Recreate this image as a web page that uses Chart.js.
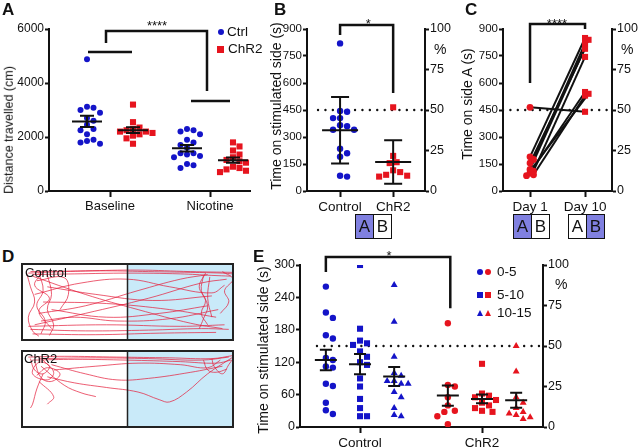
<!DOCTYPE html>
<html>
<head>
<meta charset="utf-8">
<script src="https://cdn.jsdelivr.net/npm/chart.js@4.4.0/dist/chart.umd.min.js"></script>
<style>
body{margin:0;background:#fff;width:640px;height:448px;position:relative;overflow:hidden;font-family:"Liberation Sans",Arial,sans-serif;color:#111}
canvas{position:absolute}
.t{position:absolute;white-space:nowrap;line-height:1}
.let{position:absolute;font-weight:bold;font-size:17px;line-height:1}
.yt{position:absolute;white-space:nowrap;line-height:1;transform:translate(-50%,-50%) rotate(-90deg)}
.box{position:absolute;display:flex;border:1.5px solid #111;height:23px;box-sizing:content-box}
.box span{width:17px;text-align:center;font-size:17px;line-height:23px}
.box span+span{border-left:1.5px solid #111}
.on{background:#8080e0}
.dot{position:absolute;width:6px;height:6px;border-radius:50%}
.sq{position:absolute;width:6px;height:6px}
.tri{position:absolute;width:0;height:0;border-left:3.5px solid transparent;border-right:3.5px solid transparent}
</style>
</head>
<body>
<canvas id="cA" width="262" height="225" style="left:0;top:0"></canvas>
<canvas id="cB" width="195" height="225" style="left:262px;top:0"></canvas>
<canvas id="cC" width="183" height="225" style="left:457px;top:0"></canvas>
<canvas id="cD1" width="216" height="80" style="left:20px;top:262px"></canvas>
<canvas id="cD2" width="216" height="80" style="left:20px;top:349px"></canvas>
<canvas id="cE" width="340" height="208" style="left:240px;top:240px"></canvas>

<div class="let" style="left:2px;top:1px">A</div>
<div class="let" style="left:274px;top:1px">B</div>
<div class="let" style="left:465px;top:1px">C</div>
<div class="let" style="left:2px;top:248px">D</div>
<div class="let" style="left:253px;top:248px">E</div>

<div class="yt" style="left:9px;top:130px;font-size:12.5px">Distance travelled (cm)</div>
<div class="yt" style="left:276px;top:106px;font-size:14px">Time on stimulated side (s)</div>
<div class="yt" style="left:467px;top:104px;font-size:14px">Time on side A (s)</div>
<div class="yt" style="left:263px;top:350px;font-size:14px">Time on stimulated side (s)</div>

<div class="t" style="left:434px;top:42px;font-size:14px">%</div>
<div class="t" style="left:621px;top:42px;font-size:14px">%</div>
<div class="t" style="left:555px;top:277px;font-size:14px">%</div>

<!-- legend A -->
<div class="dot" style="left:218px;top:29px;background:#1414c8"></div>
<div class="t" style="left:227px;top:25px;font-size:13.5px">Ctrl</div>
<div class="sq" style="left:217px;top:46px;width:7px;height:7px;background:#e6141e"></div>
<div class="t" style="left:228px;top:42px;font-size:13.5px">ChR2</div>

<!-- legend E -->
<div class="dot" style="left:477px;top:269px;background:#1414c8"></div>
<div class="dot" style="left:485px;top:269px;background:#e6141e"></div>
<div class="t" style="left:497px;top:265px;font-size:13.5px">0-5</div>
<div class="sq" style="left:477px;top:292px;background:#1414c8"></div>
<div class="sq" style="left:485px;top:292px;background:#e6141e"></div>
<div class="t" style="left:497px;top:288px;font-size:13.5px">5-10</div>
<div class="tri" style="left:477px;top:310px;border-bottom:6px solid #1414c8"></div>
<div class="tri" style="left:485px;top:310px;border-bottom:6px solid #e6141e"></div>
<div class="t" style="left:497px;top:306px;font-size:13.5px">10-15</div>

<!-- side boxes -->
<div class="box" style="left:355px;top:214px"><span class="on">A</span><span>B</span></div>
<div class="box" style="left:513px;top:214px"><span class="on">A</span><span>B</span></div>
<div class="box" style="left:568px;top:214px"><span>A</span><span class="on">B</span></div>

<div class="t" style="left:25px;top:266px;font-size:13px">Control</div>
<div class="t" style="left:24px;top:352px;font-size:13px">ChR2</div>

<script>
// ---- data ----
// A: distance travelled (cm)
const groupsA = ['Baseline', 'Nicotine'];
const ctrlBaseline = [4880, 3120, 3080, 3000, 2900, 2700, 2600, 2450, 2300, 2250, 2100, 1900, 1850, 1800, 1750];
const chr2Baseline = [3200, 2550, 2350, 2300, 2250, 2200, 2200, 2150, 2100, 2050, 1950, 1750];
const ctrlNicotine = [2300, 2250, 2200, 2100, 1900, 1800, 1700, 1600, 1400, 1400, 1350, 1300, 1250, 1000, 950, 850];
const chr2Nicotine = [1800, 1650, 1500, 1350, 1250, 1150, 1100, 1050, 900, 850, 800, 750, 700];

// B: time on stimulated side (s)
const groupsB = ['Control', 'ChR2'];
const ctrlB = [820, 445, 440, 405, 405, 365, 360, 340, 340, 235, 210, 190, 85, 80];
const chr2B = [465, 195, 160, 155, 115, 105, 90, 85, 80];

// C: time on side A (s), paired per mouse
const daysC = ['Day 1', 'Day 10'];
const day1C = [465, 190, 175, 155, 120, 110, 100, 90, 85];
const day10C = [440, 850, 820, 790, 840, 745, 550, 530, 540];

// D: example tracks (arena units 0-100)
const ctrlTracks = [
  [[3,88],[20,90],[40,91],[60,90],[80,89],[95,88],[100,87]],
  [[5,86],[25,87],[50,88],[75,87],[90,85],[99,84]],
  [[4,90],[30,91],[55,92],[80,90],[100,89]],
  [[2,90],[4,70],[6,50],[3,30],[5,12],[8,5]],
  [[8,88],[10,65],[7,45],[11,25],[9,8]],
  [[12,86],[14,60],[12,40],[15,20],[13,6]],
  [[10,89],[6,72],[13,55],[8,38],[14,15]],
  [[5,84],[30,60],[55,40],[80,22],[95,15]],
  [[6,20],[30,35],[60,55],[85,75],[97,80]],
  [[4,14],[30,12],[60,13],[85,15],[98,14]],
  [[5,8],[35,7],[65,9],[92,10]],
  [[3,18],[40,20],[75,18],[96,20]],
  [[86,85],[85,65],[88,45],[86,28],[84,15]],
  [[89,83],[88,55],[90,30]],
  [[87,88],[84,70],[87,52],[85,35],[88,20]],
  [[10,50],[40,48],[70,40],[92,30]],
  [[8,35],[30,45],[55,65],[75,80],[88,86]],
  [[12,70],[35,60],[62,52],[90,58]],
  [[6,60],[28,75],[50,80],[70,70],[90,62],[96,72]],
  [[9,25],[25,30],[45,25],[70,28],[93,40]],
  [[7,78],[20,82],[22,60],[18,40]],
  [[95,90],[100,80],[96,65],[98,50],[94,35]],
  [[14,40],[40,30],[65,35],[88,45]]
];
const chr2Tracks = [
  [[3,92],[20,93],[45,92],[70,91],[90,90],[100,94]],
  [[5,88],[25,89],[50,88],[75,86],[92,84],[99,88]],
  [[8,90],[35,91],[60,90],[85,88],[98,92]],
  [[4,90],[6,75],[10,70],[13,80],[8,85],[5,70],[12,62],[15,72],[10,88]],
  [[6,86],[9,65],[14,60],[18,70],[12,78],[7,68]],
  [[10,70],[7,50],[5,30],[4,25]],
  [[12,66],[25,58],[40,52],[55,46],[65,36],[70,33],[78,46],[88,70],[100,92]],
  [[15,75],[35,80],[55,84],[75,82],[88,78],[94,88]],
  [[8,60],[15,40],[12,30]],
  [[14,82],[30,70],[45,62],[60,64],[80,72],[95,80]],
  [[90,90],[91,80],[95,70],[98,82],[100,90]],
  [[86,88],[88,75],[92,72],[97,76]],
  [[9,80],[20,55],[28,45],[35,40]]
];

// E: time on stimulated side per 5-min bin (s)
const groupsE = ['Control', 'ChR2'];
const binsE = ['0-5', '5-10', '10-15'];
const ctrlE0 = [260, 212, 202, 170, 164, 128, 124, 112, 110, 80, 76, 45, 31, 24];
const ctrlE5 = [300, 182, 160, 155, 152, 140, 130, 120, 115, 90, 75, 52, 35, 20, 20];
const ctrlE10 = [263, 195, 130, 100, 95, 85, 85, 80, 80, 65, 55, 35, 22, 20];
const chr2E0 = [192, 78, 75, 55, 40, 30, 28, 20, 5];
const chr2E5 = [117, 62, 58, 55, 50, 45, 40, 35, 30, 28];
const chr2E10 = [150, 103, 55, 45, 35, 28, 25, 22, 18, 15];

// ---- helpers ----
const blue = '#1414c8', red = '#e6141e', ink = '#111';
const mean = a => a.reduce((s, v) => s + v, 0) / a.length;
const sd = a => { const m = mean(a); return Math.sqrt(a.reduce((s, v) => s + (v - m) ** 2, 0) / (a.length - 1)); };
const sem = a => sd(a) / Math.sqrt(a.length);

// simple beeswarm: horizontal pixel offsets so dots don't overlap
function swarm(vals, yPx, dot) {
  const placed = [], off = vals.map(() => 0);
  const order = vals.map((v, i) => i).sort((a, b) => vals[b] - vals[a]);
  for (const i of order) {
    const y = vals[i] * yPx;
    for (let k = 0; k < 60; k++) {
      const c = k === 0 ? 0 : (k % 2 ? 1 : -1) * Math.ceil(k / 2) * dot / 2;
      if (placed.every(p => Math.hypot(p.x - c, p.y - y) >= dot)) { off[i] = c; placed.push({x: c, y}); break; }
    }
  }
  return off;
}
function pts(vals, cx, xPx, yPx, dot) {
  const off = swarm(vals, yPx, dot);
  return vals.map((v, i) => ({x: cx + off[i] / xPx, y: v}));
}
function dots(data, color, style, r) {
  return {data, pointStyle: style, pointRadius: r, pointHoverRadius: r, backgroundColor: color, borderColor: color, borderWidth: 0, showLine: false};
}

const extras = {
  id: 'extras',
  beforeDatasetsDraw(chart, args, o) {
    if (!o.dotted) return;
    const {ctx} = chart, xs = chart.scales.x, ys = chart.scales.y;
    ctx.save();
    ctx.strokeStyle = ink; ctx.lineWidth = 2.4; ctx.lineCap = 'round'; ctx.setLineDash([0, 7.4]);
    ctx.beginPath();
    ctx.moveTo(xs.getPixelForValue(o.dotted.from), ys.getPixelForValue(o.dotted.y));
    ctx.lineTo(xs.getPixelForValue(o.dotted.to), ys.getPixelForValue(o.dotted.y));
    ctx.stroke();
    ctx.restore();
  },
  afterDatasetsDraw(chart, args, o) {
    const {ctx} = chart, xs = chart.scales.x, ys = chart.scales.y;
    const X = v => xs.getPixelForValue(v), Y = v => ys.getPixelForValue(v);
    ctx.save();
    ctx.strokeStyle = ink; ctx.fillStyle = ink;
    ctx.lineWidth = 2;
    (o.bars || []).forEach(b => {
      const x = X(b.x);
      ctx.beginPath();
      ctx.moveTo(x, Y(b.lo)); ctx.lineTo(x, Y(b.hi));
      ctx.moveTo(x - b.w, Y(b.m)); ctx.lineTo(x + b.w, Y(b.m));
      ctx.moveTo(x - b.cap, Y(b.lo)); ctx.lineTo(x + b.cap, Y(b.lo));
      ctx.moveTo(x - b.cap, Y(b.hi)); ctx.lineTo(x + b.cap, Y(b.hi));
      ctx.stroke();
    });
    ctx.lineWidth = 2.5; ctx.lineJoin = 'miter';
    (o.brackets || []).forEach(br => {
      ctx.beginPath();
      br.forEach((p, i) => i ? ctx.lineTo(X(p[0]), Y(p[1])) : ctx.moveTo(X(p[0]), Y(p[1])));
      ctx.stroke();
    });
    ctx.textAlign = 'center'; ctx.textBaseline = 'alphabetic';
    (o.texts || []).forEach(t => {
      ctx.font = '13px "Liberation Sans", Arial, sans-serif';
      ctx.fillText(t.text, X(t.x), Y(t.y));
    });
    ctx.restore();
  }
};

function xAxis(cats, min, max, h, size) {
  return {
    type: 'linear', min, max,
    afterBuildTicks: s => { s.ticks = cats.map((c, i) => ({value: i + 1})); },
    ticks: {callback: (v, i) => cats[i], font: {family: 'Liberation Sans', size}, color: ink, padding: 2, maxRotation: 0, autoSkip: false},
    grid: {drawOnChartArea: false, tickLength: 6, tickWidth: 2, color: ink},
    border: {color: ink, width: 2},
    afterFit: s => { s.height = h; }
  };
}
function yAxis(max, step, w, pos, size) {
  return {
    type: 'linear', position: pos, min: 0, max,
    ticks: {stepSize: step, callback: v => String(v), font: {family: 'Liberation Sans', size}, color: ink, padding: 1},
    grid: {drawOnChartArea: false, tickLength: 4, tickWidth: 2, color: ink},
    border: {color: ink, width: 2},
    afterFit: s => { s.width = w; }
  };
}
function make(id, datasets, scales, padding, ex) {
  return new Chart(document.getElementById(id), {
    type: 'scatter',
    data: {datasets},
    options: {
      responsive: false, animation: false, devicePixelRatio: 1,
      layout: {padding},
      scales,
      plugins: {legend: {display: false}, tooltip: {enabled: false}, extras: ex}
    },
    plugins: [extras]
  });
}

// ---- A ----
const aPx = 100, aY = 162 / 6000;
const aSets = [
  [ctrlBaseline, 1 - 0.23, blue, 'circle', 3],
  [chr2Baseline, 1 + 0.23, red, 'rect', 4.3],
  [ctrlNicotine, 2 - 0.23, blue, 'circle', 3],
  [chr2Nicotine, 2 + 0.23, red, 'rect', 4.3]
];
make('cA',
  aSets.map(s => dots(pts(s[0], s[1], aPx, aY, 6.5), s[2], s[3], s[4])),
  {x: xAxis(groupsA, 0.39, 2.40, 34, 13), y: yAxis(6000, 2000, 49, 'left', 12)},
  {top: 29, right: 12, left: 0, bottom: 0},
  {
    bars: aSets.map(s => ({x: s[1], m: mean(s[0]), lo: mean(s[0]) - sem(s[0]), hi: mean(s[0]) + sem(s[0]), w: 15, cap: 7})),
    brackets: [
      [[0.96, 5480], [0.96, 5926], [1.97, 5926], [1.97, 3700]],
      [[0.78, 5150], [1.22, 5150]],
      [[1.81, 3330], [2.20, 3330]]
    ],
    texts: [{text: '****', x: 1.47, y: 5960}]
  });

// ---- B ----
const bPx = 53, bY = 162 / 900;
make('cB',
  [dots(pts(ctrlB, 1, bPx, bY, 7), blue, 'circle', 3.2), dots(pts(chr2B, 2, bPx, bY, 7), red, 'rect', 4.3)],
  {x: xAxis(groupsB, 0.377, 2.6, 34, 13.5), y: yAxis(900, 150, 45, 'left', 11.5), y2: yAxis(100, 25, 32, 'right', 12.5)},
  {top: 29, right: 0, left: 0, bottom: 0},
  {
    dotted: {y: 450, from: 0.585, to: 2.6},
    bars: [[ctrlB, 1], [chr2B, 2]].map(s => ({x: s[1], m: mean(s[0]), lo: mean(s[0]) - sd(s[0]), hi: mean(s[0]) + sd(s[0]), w: 18, cap: 9})),
    brackets: [[[1, 867], [1, 922], [2, 922], [2, 544]]],
    texts: [{text: '*', x: 1.53, y: 906}]
  });

// ---- C ----
const cPx = 55, cY = 162 / 900;
const d1 = pts(day1C, 1, cPx, cY, 3.5), d10 = pts(day10C, 2, cPx, cY, 3.5);
const pairSets = day1C.map((v, i) => ({data: [d1[i], d10[i]], showLine: true, borderColor: ink, borderWidth: 2, pointRadius: 0}));
make('cC',
  [dots(d1, red, 'circle', 3.4), dots(d10, red, 'rect', 4.3)].concat(pairSets),
  {x: xAxis(daysC, 0.509, 2.49, 34, 13.5), y: yAxis(900, 150, 46, 'left', 11.5), y2: yAxis(100, 25, 28, 'right', 12.5)},
  {top: 29, right: 0, left: 0, bottom: 0},
  {
    dotted: {y: 450, from: 0.509, to: 2.49},
    brackets: [[[1, 600], [1, 928], [2, 928], [2, 900]]],
    texts: [{text: '****', x: 1.49, y: 905}]
  });

// ---- D ----
const arena = {
  id: 'arena',
  beforeDatasetsDraw(chart) {
    const {ctx, chartArea: a} = chart;
    ctx.save();
    ctx.fillStyle = '#c9eaf9';
    ctx.fillRect((a.left + a.right) / 2, a.top, (a.right - a.left) / 2, a.bottom - a.top);
    ctx.restore();
  },
  afterDatasetsDraw(chart) {
    const {ctx, chartArea: a} = chart;
    ctx.save();
    ctx.strokeStyle = '#222'; ctx.lineWidth = 2;
    ctx.strokeRect(a.left, a.top, a.right - a.left, a.bottom - a.top);
    ctx.beginPath(); ctx.lineWidth = 1.5;
    ctx.moveTo((a.left + a.right) / 2, a.top); ctx.lineTo((a.left + a.right) / 2, a.bottom);
    ctx.stroke();
    ctx.restore();
  }
};
function track(id, tracks) {
  return new Chart(document.getElementById(id), {
    type: 'scatter',
    data: {datasets: tracks.map(t => ({data: t.map(p => ({x: p[0], y: p[1]})), showLine: true, tension: 0.4,
      borderColor: 'rgba(228,30,60,0.8)', borderWidth: 0.9, pointRadius: 0}))},
    options: {
      responsive: false, animation: false, devicePixelRatio: 1,
      layout: {padding: {left: 2, top: 2, right: 3, bottom: 2}},
      scales: {x: {display: false, min: 0, max: 100}, y: {display: false, min: 0, max: 100}},
      plugins: {legend: {display: false}, tooltip: {enabled: false}}
    },
    plugins: [arena]
  });
}
track('cD1', ctrlTracks);
track('cD2', chr2Tracks);

// ---- E ----
const ePx = 122, eY = 162 / 300, eOff = [-0.28, 0, 0.28];
const eStyle = [['circle', 3.2], ['rect', 4.3], ['triangle', 4]];
const eSets = [ctrlE0, ctrlE5, ctrlE10].map((v, i) => [v, 1 + eOff[i], blue, i])
  .concat([chr2E0, chr2E5, chr2E10].map((v, i) => [v, 2 + eOff[i], red, i]));
make('cE',
  eSets.map(s => dots(pts(s[0], s[1], ePx, eY, 7), s[2], eStyle[s[3]][0], eStyle[s[3]][1])),
  {x: xAxis(groupsE, 0.508, 2.5, 21, 13.5), y: yAxis(300, 60, 60, 'left', 12.5), y2: yAxis(100, 25, 37, 'right', 12.5)},
  {top: 25, right: 0, left: 0, bottom: 0},
  {
    dotted: {y: 150, from: 0.647, to: 2.5},
    bars: eSets.map(s => ({x: s[1], m: mean(s[0]), lo: mean(s[0]) - sem(s[0]), hi: mean(s[0]) + sem(s[0]), w: 11, cap: 6})),
    brackets: [[[0.72, 287], [0.72, 315], [1.74, 315], [1.74, 220]]],
    texts: [{text: '*', x: 1.237, y: 309}]
  });
</script>
</body>
</html>
